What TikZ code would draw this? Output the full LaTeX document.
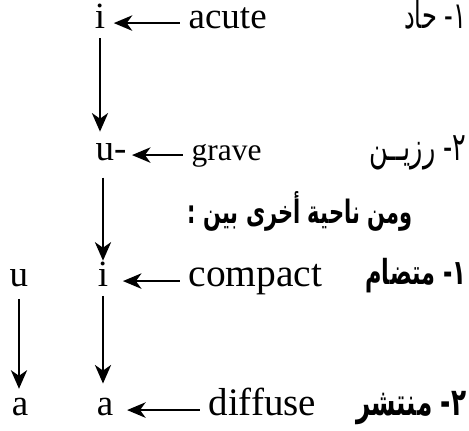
\documentclass[tikz,border=0pt]{standalone}
\usepackage{fontspec}
\setmainfont{Liberation Serif}
\newfontfamily\arabicfont[Script=Arabic,FakeStretch=0.65]{DejaVu Sans}
\TeXXeTstate=1
\usetikzlibrary{arrows.meta}

\tikzset{
    letter/.style={inner sep=0pt, text height=0.7em, text depth=0pt, anchor=base},
    word/.style={inner xsep=2.6pt, inner ysep=0pt, text height=0.7em, text depth=0.38em, anchor=base west},
    arab/.style={inner sep=0pt, anchor=base east, font=\arabicfont\fontsize{12}{14}\selectfont},
    arabbold/.style={arab, font=\arabicfont\bfseries\fontsize{11.2}{13}\selectfont},
    harrow/.style={-{Stealth[length=6pt,width=5pt,inset=1.8pt]}, line width=0.7pt},
    varrow/.style={-{Stealth[length=6pt,width=5.2pt,inset=1.8pt]}, line width=0.9pt}
}

\begin{document}
\begin{tikzpicture}[x=0.3243pt, y=-0.3243pt, font=\fontsize{12}{14}\selectfont]
                        \useasboundingbox (0, 0) rectangle (469, 430);
                        \begin{scope}
                            \node[letter] (iacute) at (100, 28) {i};
                            \node[word] (acute) at (180, 28) {acute};
                            \node[arab] (hadd) at (467, 28) {\beginR ١- حاد\endR};
                            \node[letter, anchor=base west] (ugrave) at (95, 160) {u-};
                            \node[word, font=\fontsize{10.2}{12}\selectfont] (grave) at (183, 160) {grave};
                            \node[arab, font=\arabicfont\fontsize{12.7}{15}\selectfont] (razin) at (467, 160) {\beginR ٢- رزيــن\endR};
                        \end{scope}
                        \node[arabbold, anchor=base, font=\arabicfont\bfseries\fontsize{10.45}{12}\selectfont] (other) at (300, 223) {\beginR ومن ناحية أخرى بين :\endR};
                        \begin{scope}
                            \node[letter] (uleft) at (19, 286) {u};
                            \node[letter] (icompact) at (103, 286) {i};
                            \node[word, font=\fontsize{12.8}{15}\selectfont] (compact) at (180, 286) {compact};
                            \node[arabbold] (mutadamm) at (467, 284) {\beginR ١- متضام\endR};
                            \node[letter] (aleft) at (20, 415) {a};
                            \node[letter] (adiffuse) at (105, 415) {a};
                            \node[word, font=\fontsize{12.65}{15}\selectfont] (diffuse) at (200, 415) {diffuse};
                            \node[arabbold, font=\arabicfont\bfseries\fontsize{12.35}{14}\selectfont] (muntashir) at (467, 415) {\beginR ٢- منتشر\endR};
                        \end{scope}
                        \draw[harrow, shorten >=2.6pt] (acute.west) -- (acute.west -| iacute.east);
                        \draw[harrow, shorten >=1.6pt] (grave.west) -- (grave.west -| ugrave.east);
                        \draw[harrow, shorten >=4.6pt] (compact.west) -- (compact.west -| icompact.east);
                        \draw[harrow, shorten >=4.3pt] (diffuse.west) -- (diffuse.west -| adiffuse.east);
                        \draw[varrow, shorten <=3.2pt, shorten >=2pt] (iacute.south) -- (ugrave.north -| iacute.south);
                        \draw[varrow, shorten <=5.5pt, shorten >=1pt] (ugrave.south -| icompact.north) -- (icompact.north);
                        \draw[varrow, shorten <=3pt, shorten >=3pt] (icompact.south) -- (adiffuse.north -| icompact.south);
                        \draw[varrow, shorten <=4pt, shorten >=1.3pt] (uleft.south) -- (aleft.north -| uleft.south);
                    \end{tikzpicture}
\end{document}
